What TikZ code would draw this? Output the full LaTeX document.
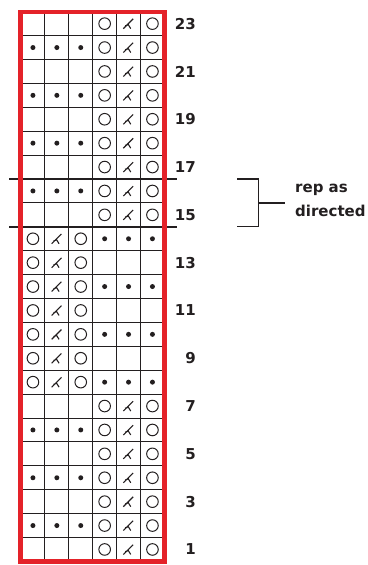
\documentclass[tikz,border=0pt]{standalone}
\usepackage{fontspec}
\setmainfont{DejaVu Sans}
\definecolor{ChartRed}{HTML}{E42229}
\definecolor{ChartInk}{HTML}{231F20}
\tikzset{
  gridline/.style={draw=ChartInk, line width=1pt},
  yo/.pic={\draw[ChartInk, line width=1pt] (0,0) circle[radius=5.8];},
  sktwo/.pic={\draw[ChartInk, line width=1.1pt] (-5.2,-5) -- (4.6,4.8) (-0.6,-0.5) -- (2.2,-5) (-3.4,-2.2) -- (-0.8,-1.4);},
  rownum/.style={anchor=east, inner sep=0, text=ChartInk, font=\fontsize{15}{18}\selectfont\bfseries}
}
\begin{document}
\begin{tikzpicture}[x=1pt, y=1pt]
    \useasboundingbox (0,0) rectangle (367,-565);
    \foreach \i in {1,...,5} \draw[gridline] (21+\i*23.9,-11.7) -- (21+\i*23.9,-561.4);
    \foreach \j in {1,...,22} \draw[gridline] (21,-11.7-\j*23.9) -- (164.4,-11.7-\j*23.9);
    \foreach \r in {1,...,23}{
      \pgfmathsetmacro\cy{-561.4+(\r-0.5)*23.9}
      \pgfmathsetmacro\lx{(\r>7 && \r<15) ? 32.95 : 104.65}
      \pgfmathsetmacro\px{(\r>7 && \r<15) ? 104.65 : 32.95}
      \pic at (\lx,\cy) {yo};
      \pic at (\lx+23.9,\cy) {sktwo};
      \pic at (\lx+47.8,\cy) {yo};
      \ifodd\r\else
        \foreach \k in {0,1,2} \fill[ChartInk] (\px+\k*23.9,\cy) circle[radius=2.5];
      \fi
    }
    \foreach \r in {1,3,...,23} \node[rownum] (row\r) at (196,-561.4+\r*23.9-11.95) {\r};
    \draw[ChartInk, line width=2.2pt] (9,-179) -- (176.7,-179) (9,-226.8) -- (176.7,-226.8);
    \draw[ChartRed, line width=4.4pt] (20.5,-11.7) rectangle (164.5,-561.4);
    \coordinate (brtop) at (237,-179);
    \coordinate (brbot) at (237,-226.8);
    \coordinate (brmid) at (258.3,-203);
    \coordinate (brtip) at (285,-203);
    \draw[ChartInk, line width=1.2pt] (brtop) -| (brmid) |- (brbot);
    \draw[ChartInk, line width=1.2pt] (brmid) -- (brtip);
    \node[anchor=base west, align=left, inner sep=0, text=ChartInk, font=\fontsize{15}{24.4}\selectfont\bfseries] (rep) at (295,-216.7) {rep as\\directed};
\end{tikzpicture}
\end{document}
